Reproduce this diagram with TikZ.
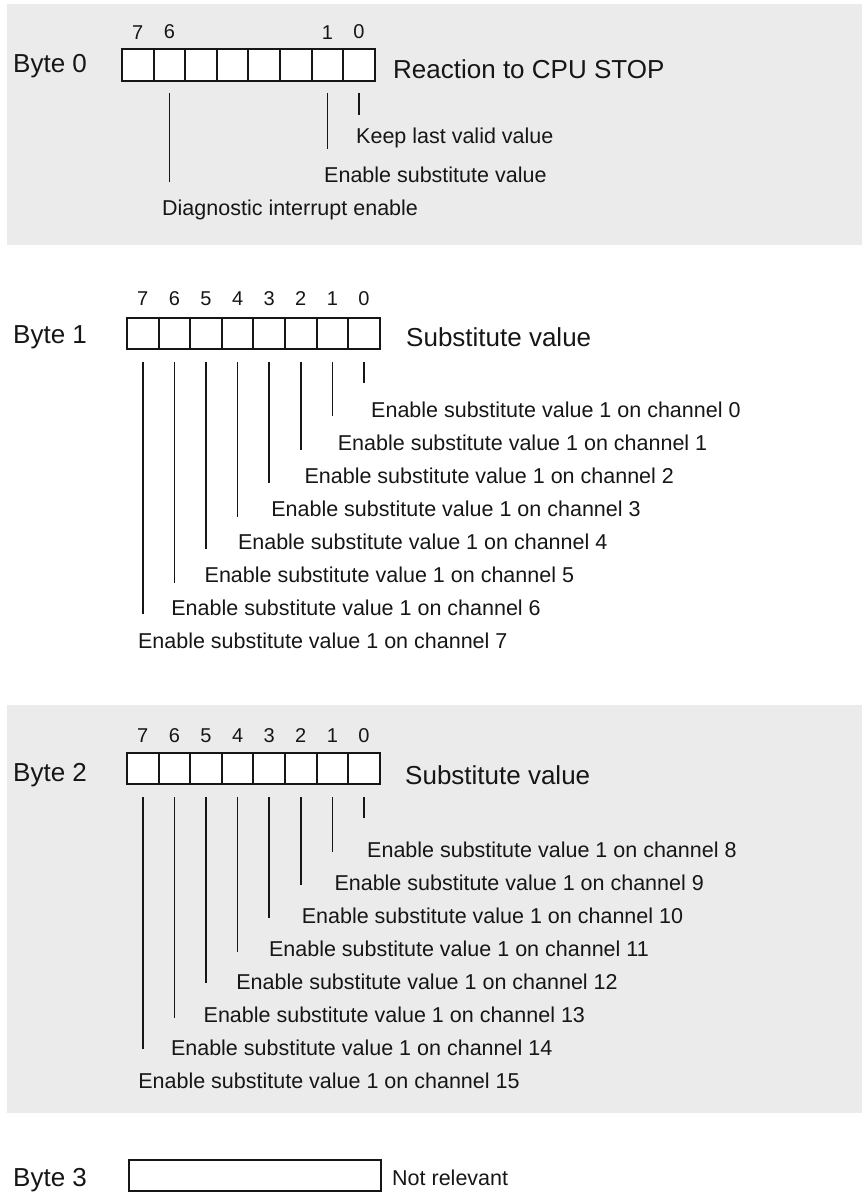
\documentclass[tikz,border=0pt]{standalone}
\usepackage{fontspec}
\setmainfont{Liberation Sans}
\usepackage{tikz}
\usetikzlibrary{positioning}
\definecolor{panelgray}{HTML}{EBEBEB}
\definecolor{ink}{HTML}{161616}
\tikzset{
  bit/.style={draw=ink,fill=white,line width=2pt,minimum width=31.6pt,minimum height=31.5pt,inner sep=0pt,outer sep=0pt},
  rowlbl/.style={anchor=base west,inner sep=0pt,text=ink,font=\fontsize{26}{30}\selectfont},
  bitno/.style={inner sep=0pt,text=ink,font=\fontsize{20}{23}\selectfont},
  lbl/.style={anchor=base west,inner sep=0pt,text=ink,font=\fontsize{21.5}{25}\selectfont},
  tick/.style={draw=ink,line width=1.6pt},
}

\begin{document}
\begin{tikzpicture}[x=1pt,y=-1pt]
 \useasboundingbox (0,0) rectangle (864,1198);
 \fill[panelgray] (7,4) rectangle (862,245);
 \fill[panelgray] (7,705) rectangle (862,1113);
 % byte 0
 \node[rowlbl] (by0) at (13,73) {Byte 0};
 \node[bit] (b0c7) at (137.75,65) {};
 \node[bit,right=0pt of b0c7] (b0c6) {}; \node[bit,right=0pt of b0c6] (b0c5) {};
 \node[bit,right=0pt of b0c5] (b0c4) {}; \node[bit,right=0pt of b0c4] (b0c3) {};
 \node[bit,right=0pt of b0c3] (b0c2) {}; \node[bit,right=0pt of b0c2] (b0c1) {};
 \node[bit,right=0pt of b0c1] (b0c0) {};
 \node[bitno,above=10pt of b0c7] (b0n7) {7}; \node[bitno,above=10pt of b0c6] (b0n6) {6};
 \node[bitno,above=10pt of b0c1] (b0n1) {1}; \node[bitno,above=10pt of b0c0] (b0n0) {0};
 \node[rowlbl] (react) at (393,79) {Reaction to CPU STOP};
 \draw[tick] ([yshift=-12pt]b0c0.south) -- ([yshift=-34pt]b0c0.south);
 \draw[tick] ([yshift=-12pt]b0c1.south) -- ([yshift=-68pt]b0c1.south);
 \draw[tick] ([yshift=-12pt]b0c6.south) -- ([yshift=-101pt]b0c6.south);
 \node[lbl] (keep) at (356,144) {Keep last valid value};
 \node[lbl] (ensub) at (324,183) {Enable substitute value};
 \node[lbl] (diag) at (162,216) {Diagnostic interrupt enable};
 % byte 1
 \node[rowlbl] (by1) at (13,343) {Byte 1};
 \node[bit] (b1c7) at (142.8,333.5) {};
 \node[bit,right=0pt of b1c7] (b1c6) {}; \node[bit,right=0pt of b1c6] (b1c5) {};
 \node[bit,right=0pt of b1c5] (b1c4) {}; \node[bit,right=0pt of b1c4] (b1c3) {};
 \node[bit,right=0pt of b1c3] (b1c2) {}; \node[bit,right=0pt of b1c2] (b1c1) {};
 \node[bit,right=0pt of b1c1] (b1c0) {};
 \node[bitno,above=12pt of b1c7] (b1n7) {7}; \node[bitno,above=12pt of b1c6] (b1n6) {6};
 \node[bitno,above=12pt of b1c5] (b1n5) {5}; \node[bitno,above=12pt of b1c4] (b1n4) {4};
 \node[bitno,above=12pt of b1c3] (b1n3) {3}; \node[bitno,above=12pt of b1c2] (b1n2) {2};
 \node[bitno,above=12pt of b1c1] (b1n1) {1}; \node[bitno,above=12pt of b1c0] (b1n0) {0};
 \node[rowlbl] (subst1) at (406,346) {Substitute value};
 \draw[tick] ([yshift=-13pt]b1c0.south) -- ([yshift=-34pt]b1c0.south);
 \draw[tick] ([yshift=-13pt]b1c1.south) -- ([yshift=-67pt]b1c1.south);
 \draw[tick] ([yshift=-13pt]b1c2.south) -- ([yshift=-101pt]b1c2.south);
 \draw[tick] ([yshift=-13pt]b1c3.south) -- ([yshift=-134pt]b1c3.south);
 \draw[tick] ([yshift=-13pt]b1c4.south) -- ([yshift=-168pt]b1c4.south);
 \draw[tick] ([yshift=-13pt]b1c5.south) -- ([yshift=-200pt]b1c5.south);
 \draw[tick] ([yshift=-13pt]b1c6.south) -- ([yshift=-234pt]b1c6.south);
 \draw[tick] ([yshift=-13pt]b1c7.south) -- ([yshift=-265pt]b1c7.south);
 \node[lbl] (ch0) at (371,417) {Enable substitute value 1 on channel 0};
 \node[lbl] (ch1) at (337.7,450) {Enable substitute value 1 on channel 1};
 \node[lbl] (ch2) at (304.4,483) {Enable substitute value 1 on channel 2};
 \node[lbl] (ch3) at (271.1,516) {Enable substitute value 1 on channel 3};
 \node[lbl] (ch4) at (237.8,549) {Enable substitute value 1 on channel 4};
 \node[lbl] (ch5) at (204.5,582) {Enable substitute value 1 on channel 5};
 \node[lbl] (ch6) at (171.2,615) {Enable substitute value 1 on channel 6};
 \node[lbl] (ch7) at (137.9,648) {Enable substitute value 1 on channel 7};
 % byte 2
 \node[rowlbl] (by2) at (13,781) {Byte 2};
 \node[bit] (b2c7) at (142.8,768.5) {};
 \node[bit,right=0pt of b2c7] (b2c6) {}; \node[bit,right=0pt of b2c6] (b2c5) {};
 \node[bit,right=0pt of b2c5] (b2c4) {}; \node[bit,right=0pt of b2c4] (b2c3) {};
 \node[bit,right=0pt of b2c3] (b2c2) {}; \node[bit,right=0pt of b2c2] (b2c1) {};
 \node[bit,right=0pt of b2c1] (b2c0) {};
 \node[bitno,above=10pt of b2c7] (b2n7) {7}; \node[bitno,above=10pt of b2c6] (b2n6) {6};
 \node[bitno,above=10pt of b2c5] (b2n5) {5}; \node[bitno,above=10pt of b2c4] (b2n4) {4};
 \node[bitno,above=10pt of b2c3] (b2n3) {3}; \node[bitno,above=10pt of b2c2] (b2n2) {2};
 \node[bitno,above=10pt of b2c1] (b2n1) {1}; \node[bitno,above=10pt of b2c0] (b2n0) {0};
 \node[rowlbl] (subst2) at (405,784) {Substitute value};
 \draw[tick] ([yshift=-13pt]b2c0.south) -- ([yshift=-34pt]b2c0.south);
 \draw[tick] ([yshift=-13pt]b2c1.south) -- ([yshift=-68pt]b2c1.south);
 \draw[tick] ([yshift=-13pt]b2c2.south) -- ([yshift=-101pt]b2c2.south);
 \draw[tick] ([yshift=-13pt]b2c3.south) -- ([yshift=-134pt]b2c3.south);
 \draw[tick] ([yshift=-13pt]b2c4.south) -- ([yshift=-168pt]b2c4.south);
 \draw[tick] ([yshift=-13pt]b2c5.south) -- ([yshift=-199pt]b2c5.south);
 \draw[tick] ([yshift=-13pt]b2c6.south) -- ([yshift=-234pt]b2c6.south);
 \draw[tick] ([yshift=-13pt]b2c7.south) -- ([yshift=-265pt]b2c7.south);
 \node[lbl] (ch8) at (367,857) {Enable substitute value 1 on channel 8};
 \node[lbl] (ch9) at (334.3,890) {Enable substitute value 1 on channel 9};
 \node[lbl] (ch10) at (301.6,923) {Enable substitute value 1 on channel 10};
 \node[lbl] (ch11) at (268.9,956) {Enable substitute value 1 on channel 11};
 \node[lbl] (ch12) at (236.2,989) {Enable substitute value 1 on channel 12};
 \node[lbl] (ch13) at (203.5,1022) {Enable substitute value 1 on channel 13};
 \node[lbl] (ch14) at (170.8,1055) {Enable substitute value 1 on channel 14};
 \node[lbl] (ch15) at (138.1,1088) {Enable substitute value 1 on channel 15};
 % byte 3
 \node[rowlbl] (by3) at (13,1186) {Byte 3};
 \node[bit,minimum width=252pt,minimum height=31pt] (b3) at (255,1175.5) {};
 \node[lbl] (notrel) at (392,1185) {Not relevant};
\end{tikzpicture}
\end{document}
